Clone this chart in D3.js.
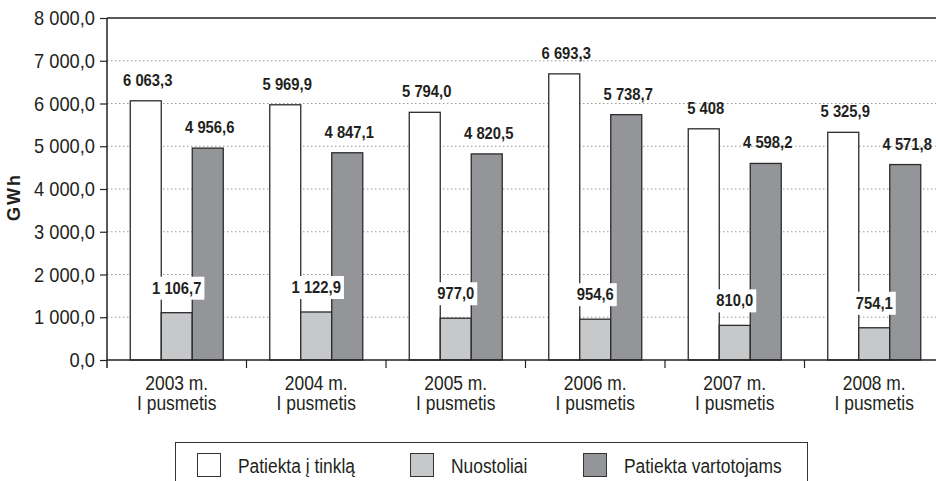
<!DOCTYPE html>
<html>
<head>
<meta charset="utf-8">
<script src="https://cdn.jsdelivr.net/npm/d3@7"></script>
<style>
  body { margin: 0; background: #fff; }
  svg { display: block; font-family: "Liberation Sans", Arial, sans-serif; }
</style>
</head>
<body>
<div id="chart"></div>
<script>
// chart data
var categories = ["2003", "2004", "2005", "2006", "2007", "2008"];
var seriesNames = ["Patiekta į tinklą", "Nuostoliai", "Patiekta vartotojams"];
var tinklas = [6063.3, 5969.9, 5794.0, 6693.3, 5408, 5325.9];
var tinklasLabels = ["6 063,3", "5 969,9", "5 794,0", "6 693,3", "5 408", "5 325,9"];
var nuostoliai = [1106.7, 1122.9, 977.0, 954.6, 810.0, 754.1];
var vartotojams = [4956.6, 4847.1, 4820.5, 5738.7, 4598.2, 4571.8];
var yTicks = [0, 1000, 2000, 3000, 4000, 5000, 6000, 7000, 8000];

var W = 936, H = 481;
var margin = {top: 18, left: 107};
var plotW = 837, plotH = 342;
var CONDENSE = 0.87;   // the source uses a condensed face

var svg = d3.select("#chart").append("svg")
    .attr("width", W).attr("height", H);

var locale = d3.formatLocale({decimal: ",", thousands: " ", grouping: [3]});
var fmt1 = locale.format(",.1f");

var colors = ["#ffffff", "#c7c8ca", "#939598"];

var x0 = d3.scaleBand().domain(categories).range([0, plotW]);
var x1 = d3.scaleBand().domain(d3.range(3)).range([0, x0.bandwidth()]).paddingOuter(0.75);
var y = d3.scaleLinear().domain([0, 8000]).range([plotH, 0]);

// squeeze text horizontally to mimic a narrow font
function condense(sel){
  sel.each(function(){
    var n = this;
    var w = n.getComputedTextLength();
    if (w > 0) {
      d3.select(n).attr("textLength", w * CONDENSE).attr("lengthAdjust", "spacingAndGlyphs");
    }
  });
}

var g = svg.append("g").attr("transform", "translate(" + margin.left + "," + margin.top + ")");

// dotted grid lines
g.append("g").selectAll("line")
    .data(yTicks.filter(function(d){ return d > 0 && d < 8000; }))
    .enter().append("line")
    .attr("x1", 0).attr("x2", W)
    .attr("y1", function(d){ return y(d); })
    .attr("y2", function(d){ return y(d); })
    .attr("stroke", "#9a9a9a")
    .attr("stroke-width", 1)
    .attr("stroke-dasharray", "1.5,2.5");

// bars
var data = categories.map(function(c, i){
  return {cat: c, i: i, vals: [tinklas[i], nuostoliai[i], vartotojams[i]]};
});

var groups = g.selectAll("g.grp").data(data).enter().append("g")
    .attr("class", "grp")
    .attr("transform", function(d){ return "translate(" + x0(d.cat) + ",0)"; });

groups.selectAll("rect")
    .data(function(d){ return d.vals; })
    .enter().append("rect")
    .attr("x", function(d, i){ return x1(i); })
    .attr("y", function(d){ return y(d); })
    .attr("width", x1.bandwidth())
    .attr("height", function(d){ return plotH - y(d); })
    .attr("fill", function(d, i){ return colors[i]; })
    .attr("stroke", "#2b2b2b")
    .attr("stroke-width", 1.3);

// value labels
groups.each(function(d){
  var grp = d3.select(this);
  [0, 2].forEach(function(i){
    var v = d.vals[i];
    var txt = i === 0 ? tinklasLabels[d.i] : fmt1(v);
    grp.append("text")
      .attr("class", "lab")
      .attr("x", x1(i) + x1.bandwidth() / 2 + 2)
      .attr("y", y(v) - 15)
      .attr("text-anchor", "middle")
      .attr("font-weight", "bold")
      .attr("font-size", 17)
      .attr("fill", "#231f20")
      .text(txt);
  });
  // loss label with white background
  var v = d.vals[1];
  var cx = x1(1) + x1.bandwidth() / 2;
  var lbl = grp.append("g");
  var t = lbl.append("text")
      .attr("class", "lab")
      .attr("x", cx)
      .attr("y", y(v) - 19)
      .attr("text-anchor", "middle")
      .attr("font-weight", "bold")
      .attr("font-size", 17)
      .attr("fill", "#231f20")
      .text(fmt1(v));
  condense(t);
  var bb = t.node().getBBox();
  lbl.insert("rect", "text")
      .attr("x", bb.x - 3).attr("y", bb.y - 2)
      .attr("width", bb.width + 6).attr("height", bb.height + 4)
      .attr("fill", "#fff");
});

// top frame line
g.append("line")
    .attr("x1", 0).attr("x2", W).attr("y1", 0).attr("y2", 0)
    .attr("stroke", "#222").attr("stroke-width", 1.5);

// y axis
var yAxis = d3.axisLeft(y).tickValues(yTicks).tickSize(7).tickPadding(5)
    .tickFormat(function(d){ return fmt1(d); });
var ya = g.append("g").call(yAxis);
ya.select(".domain").remove();
ya.selectAll(".tick line").attr("stroke", "#222").attr("stroke-width", 1.2);
ya.selectAll(".tick text")
    .attr("font-size", 21)
    .attr("font-family", "Liberation Sans, Arial, sans-serif")
    .attr("fill", "#231f20");
g.append("line")
    .attr("x1", 0).attr("x2", 0).attr("y1", 0).attr("y2", plotH + 8)
    .attr("stroke", "#222").attr("stroke-width", 1.5);

// x axis
g.append("line")
    .attr("x1", 0).attr("x2", W).attr("y1", plotH).attr("y2", plotH)
    .attr("stroke", "#222").attr("stroke-width", 1.5);
g.append("g").selectAll("line")
    .data(categories.slice(1))
    .enter().append("line")
    .attr("x1", function(d){ return x0(d); })
    .attr("x2", function(d){ return x0(d); })
    .attr("y1", plotH).attr("y2", plotH + 8)
    .attr("stroke", "#222").attr("stroke-width", 1.2);

var xg = g.append("g");
xg.selectAll("text.l1").data(categories).enter().append("text")
    .attr("class", "l1")
    .attr("x", function(d){ return x0(d) + x0.bandwidth() / 2; })
    .attr("y", plotH + 30)
    .attr("text-anchor", "middle")
    .attr("font-size", 20)
    .attr("fill", "#231f20")
    .text(function(d){ return d + " m."; });
xg.selectAll("text.l2").data(categories).enter().append("text")
    .attr("class", "l2")
    .attr("x", function(d){ return x0(d) + x0.bandwidth() / 2; })
    .attr("y", plotH + 50)
    .attr("text-anchor", "middle")
    .attr("font-size", 20)
    .attr("fill", "#231f20")
    .text("I pusmetis");

// y axis title
svg.append("text")
    .attr("class", "ytitle")
    .attr("transform", "translate(20,197) rotate(-90)")
    .attr("text-anchor", "middle")
    .attr("font-weight", "bold")
    .attr("font-size", 18)
    .attr("letter-spacing", 2)
    .attr("fill", "#231f20")
    .text("GWh");

// legend
var legend = svg.append("g");
legend.append("rect")
    .attr("x", 175.5).attr("y", 442.5)
    .attr("width", 632).attr("height", 60)
    .attr("fill", "none").attr("stroke", "#333").attr("stroke-width", 1);
var legX = [197, 410, 583];
seriesNames.forEach(function(name, i){
  legend.append("rect")
    .attr("x", legX[i] + 0.5).attr("y", 453.5)
    .attr("width", 23).attr("height", 23)
    .attr("fill", colors[i]).attr("stroke", "#333").attr("stroke-width", 1);
  legend.append("text")
    .attr("class", "legt")
    .attr("x", legX[i] + 41).attr("y", 473)
    .attr("font-size", 20)
    .attr("fill", "#231f20")
    .text(name);
});

// narrow every text except the ones already done
svg.selectAll("text")
    .filter(function(){ return !this.hasAttribute("textLength") && this.getAttribute("class") !== "ytitle"; })
    .call(condense);
</script>
</body>
</html>
